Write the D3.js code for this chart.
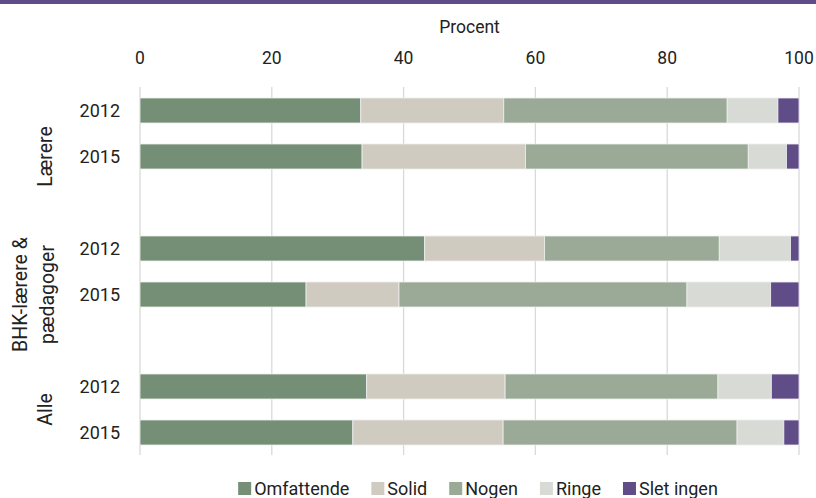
<!DOCTYPE html>
<html>
<head>
<meta charset="utf-8">
<script src="https://cdn.jsdelivr.net/npm/d3@7"></script>
<style>
  body { margin: 0; background: #fff; }
  svg { display: block; font-family: Roboto, "Noto Sans", sans-serif; }
</style>
</head>
<body>
<div id="chart"></div>
<script>
// rows top to bottom (blank rows separate the groups)
const groups = ["Lærere", "BHK-lærere & pædagoger", "Alle"];
const years = ["2012", "2015"];
const seriesNames = ["Omfattende", "Solid", "Nogen", "Ringe", "Slet ingen"];
const colors = ["#758f76", "#cfcbc0", "#9aaa96", "#d8dbd5", "#604d88"];

// values per row: Lærere 2012, Lærere 2015, BHK 2012, BHK 2015, Alle 2012, Alle 2015
const omfattende = [33.5, 33.7, 43.2, 25.2, 34.4, 32.3];
const solid      = [21.7, 24.8, 18.2, 14.1, 21.0, 22.8];
const nogen      = [33.9, 33.8, 26.5, 43.7, 32.3, 35.5];
const ringe      = [7.7, 5.8, 10.8, 12.7, 8.1, 7.1];
const sletIngen  = [3.2, 1.9, 1.3, 4.3, 4.2, 2.3];

const xTicks = [0, 20, 40, 60, 80, 100];

const W = 816, H = 498;
const svg = d3.select("#chart").append("svg").attr("width", W).attr("height", H);

// top rule
svg.append("rect").attr("x", 0).attr("y", 0).attr("width", W).attr("height", 4).attr("fill", "#5f4b87");

const x = d3.scaleLinear().domain([0, 100]).range([140, 799]);

// build rows with blank spacer rows
const rowKeys = [];
const rows = [];
groups.forEach((g, gi) => {
  years.forEach((yr, yi) => {
    const i = gi * 2 + yi;
    const key = g + "|" + yr;
    rowKeys.push(key);
    rows.push({ key, group: g, year: yr,
      vals: [omfattende[i], solid[i], nogen[i], ringe[i], sletIngen[i]] });
  });
  if (gi < groups.length - 1) rowKeys.push("gap" + gi);
});

const y = d3.scaleBand().domain(rowKeys).range([87.5, 455.5])
  .paddingInner(0.4565).paddingOuter(0.2283);

// gridlines
svg.append("g").selectAll("line").data(xTicks).enter().append("line")
  .attr("x1", d => x(d)).attr("x2", d => x(d))
  .attr("y1", 87).attr("y2", 455)
  .attr("stroke", "#d9d9d9").attr("stroke-width", 1.3);

// top axis labels
svg.append("g").selectAll("text").data(xTicks).enter().append("text")
  .attr("x", d => x(d)).attr("y", 64)
  .attr("text-anchor", "middle").attr("font-size", 17.5).attr("fill", "#222")
  .text(d => d);

svg.append("text").attr("x", (x(0) + x(100)) / 2).attr("y", 33)
  .attr("text-anchor", "middle").attr("font-size", 17.5).attr("fill", "#222")
  .text("Procent");

// stacked bars
const segs = [];
rows.forEach(r => {
  let acc = 0;
  r.vals.forEach((v, si) => {
    segs.push({ key: r.key, x0: acc, x1: acc + v, si });
    acc += v;
  });
});

svg.append("g").selectAll("rect").data(segs).enter().append("rect")
  .attr("x", d => x(d.x0))
  .attr("width", d => x(d.x1) - x(d.x0))
  .attr("y", d => y(d.key))
  .attr("height", y.bandwidth())
  .attr("fill", d => colors[d.si])
  .attr("stroke", "#eeeeee").attr("stroke-width", 0.8);

// year labels
svg.append("g").selectAll("text").data(rows).enter().append("text")
  .attr("x", 120).attr("y", d => y(d.key) + y.bandwidth() / 2 + 6.5)
  .attr("text-anchor", "end").attr("font-size", 18).attr("fill", "#222")
  .text(d => d.year);

// group labels (rotated); centres span the group rows plus spacer
const groupSpans = [
  { lines: ["Lærere"], from: "Lærere|2012", to: "gap0", cx: 45 },
  { lines: ["BHK-lærere &", "pædagoger"], from: "BHK-lærere & pædagoger|2012", to: "gap1", cx: 33.5 },
  { lines: ["Alle"], from: "Alle|2012", to: "Alle|2015", cx: 45 }
];
groupSpans.forEach(gs => {
  const top = y(gs.from) - y.step() * y.paddingInner() / 2;
  const bot = y(gs.to) + y.bandwidth() + y.step() * y.paddingInner() / 2;
  const cy = (top + bot) / 2;
  const n = gs.lines.length;
  const t = svg.append("text")
    .attr("transform", `translate(${gs.cx},${cy}) rotate(-90)`)
    .attr("text-anchor", "middle").attr("font-size", 19.5).attr("fill", "#222");
  gs.lines.forEach((ln, li) => {
    t.append("tspan").attr("x", 0)
      .attr("y", 7 + (li - (n - 1) / 2) * 27)
      .text(ln);
  });
});

// legend
const legend = svg.append("g");
let lx = 0;
seriesNames.forEach((s, i) => {
  const g = legend.append("g").attr("transform", `translate(${lx},0)`);
  g.append("rect").attr("x", 0).attr("y", 482).attr("width", 13).attr("height", 13).attr("fill", colors[i]);
  const t = g.append("text").attr("x", 16).attr("y", 495)
    .attr("font-size", 18).attr("fill", "#222").text(s);
  lx += 16 + t.node().getComputedTextLength() + 22;
});
lx -= 22;
legend.attr("transform", `translate(${478 - lx / 2},0)`);
</script>
</body>
</html>
